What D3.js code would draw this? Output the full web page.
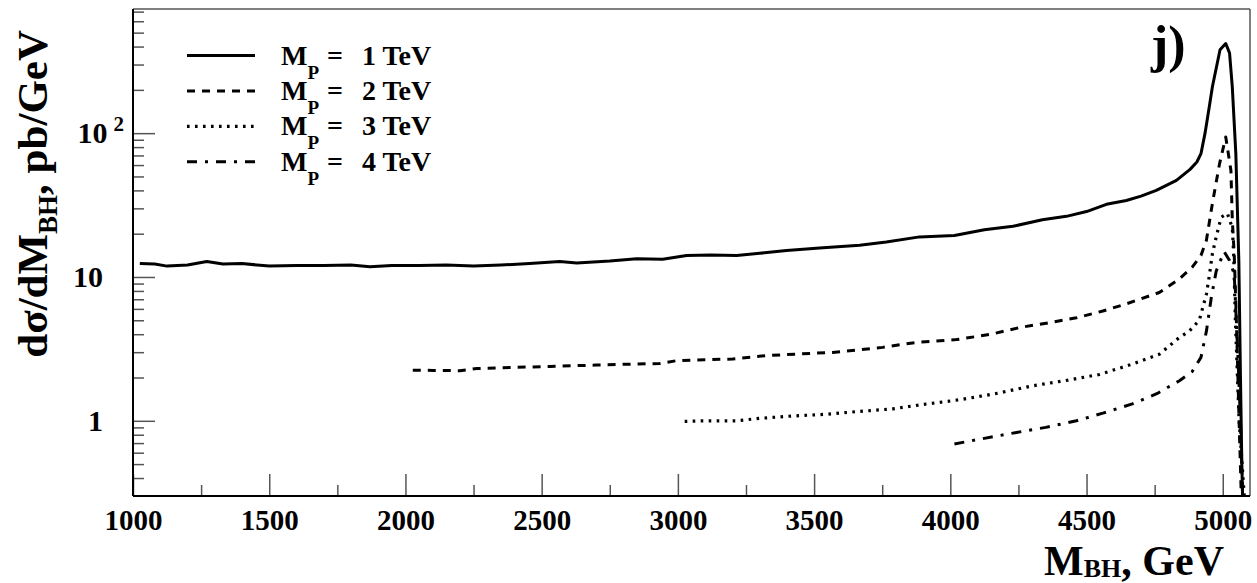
<!DOCTYPE html>
<html>
<head>
<meta charset="utf-8">
<script src="https://cdn.jsdelivr.net/npm/d3@7"></script>
<style>
  body { margin: 0; background: #fff; }
  text { font-family: "Liberation Serif", "Times New Roman", serif; font-weight: bold; fill: #000; }
</style>
</head>
<body>
<svg id="chart" width="1257" height="583"></svg>
<script>
// M_P = 1 TeV
const mp1X = [1025,1080,1125,1200,1271,1330,1400,1500,1600,1700,1800,1870,1950,2050,2150,2250,2350,2456,2566,2629,2750,2849,2944,3032,3120,3216,3300,3399,3520,3667,3765,3887,4015,4125,4230,4338,4426,4500,4573,4646,4700,4756,4830,4880,4905,4920,4935,4950,4962,4990,5011,5025,5035,5048,5059,5065,5070,5075]
const mp1Y = [12.4,12.3,11.9,12.1,12.8,12.3,12.4,11.9,12.0,12.0,12.1,11.8,12.0,12.0,12.1,11.9,12.1,12.4,12.8,12.5,12.9,13.4,13.3,14.1,14.2,14.1,14.6,15.3,15.9,16.6,17.5,19.0,19.4,21.3,22.5,25.0,26.4,28.5,32.0,34,36.5,40,47,56,63,72,100,150,210,380,420,360,210,72,13,2,0.5,0.2]
// M_P = 2 TeV
const mp2X = [2027,2100,2200,2262,2400,2530,2700,2834,2933,2996,3100,3201,3325,3450,3568,3751,3876,4023,4150,4254,4360,4463,4560,4646,4767,4841,4888,4920,4940,4962,4988,5011,5030,5035,5042,5050,5060,5068,5075]
const mp2Y = [2.25,2.24,2.23,2.31,2.35,2.39,2.44,2.48,2.5,2.62,2.66,2.69,2.84,2.92,2.99,3.24,3.51,3.67,4.0,4.45,4.8,5.2,5.8,6.5,7.8,9.7,11.7,14.1,18,32.5,61,94,55,25,14.5,5,1.0,0.3,0.2]
// M_P = 3 TeV
const mp3X = [3025,3100,3216,3300,3420,3546,3660,3788,3900,4034,4170,4301,4420,4547,4660,4767,4841,4877,4914,4940,4950,4962,4976,4994,5017,5035,5040,5046,5060,5079,5085]
const mp3Y = [0.99,1.0,1.0,1.04,1.08,1.11,1.16,1.21,1.3,1.40,1.55,1.75,1.9,2.1,2.45,2.9,3.8,4.2,5.0,7.6,10,14.5,19,26,27.7,22,14.5,5.2,1.0,0.3,0.2]
// M_P = 4 TeV
const mp4X = [4015,4100,4243,4350,4463,4560,4668,4760,4841,4888,4920,4940,4958,4976,5005,5025,5042,5055,5065,5073,5080]
const mp4Y = [0.69,0.74,0.83,0.9,1.0,1.13,1.31,1.55,1.9,2.2,2.76,4.2,7.2,11,15,13,10.5,3,1,0.3,0.2]

const legendLabels = ["1 TeV", "2 TeV", "3 TeV", "4 TeV"]
const xMajor = [1000,1500,2000,2500,3000,3500,4000,4500,5000]
const xMinor = [1250,1750,2250,2750,3250,3750,4250,4750]
const yMajor = [1, 10, 100]
const yMinor = [0.4,0.5,0.6,0.7,0.8,0.9,2,3,4,5,6,7,8,9,20,30,40,50,60,70,80,90,200,300,400,500,600,700]

const series = [
  { x: mp1X, y: mp1Y, dash: null, width: 3 },
  { x: mp2X, y: mp2Y, dash: "8,7", width: 3 },
  { x: mp3X, y: mp3Y, dash: "2.6,5.4", width: 3.2 },
  { x: mp4X, y: mp4Y, dash: "10,8,3,8", width: 3 }
]

const L = 133, R = 1250, T = 9, B = 496

const svg = d3.select("#chart")
svg.append("rect").attr("width", 1257).attr("height", 583).attr("fill", "#fff")

const x = d3.scaleLinear().domain([1000, 5100]).range([L, R])
const y = d3.scaleLog().domain([0.3, 730]).range([B, T])

svg.append("defs").append("clipPath").attr("id", "clip")
  .append("rect").attr("x", L).attr("y", T).attr("width", R - L).attr("height", B - T)

// ticks
const xAx = svg.append("g").attr("transform", `translate(0,${B})`)
  .call(d3.axisBottom(x).tickValues(xMajor).tickSize(-22).tickSizeOuter(0).tickPadding(13).tickFormat(d3.format("d")))
xAx.select(".domain").remove()
xAx.selectAll("line").attr("stroke", "#555").attr("stroke-width", 1.5)
xAx.selectAll("text").attr("font-size", 29).attr("font-family", null)

const xMin = svg.append("g").attr("transform", `translate(0,${B})`)
  .call(d3.axisBottom(x).tickValues(xMinor).tickSize(-11).tickSizeOuter(0).tickFormat(""))
xMin.select(".domain").remove()
xMin.selectAll("line").attr("stroke", "#555").attr("stroke-width", 1.5)

const yAx = svg.append("g").attr("transform", `translate(${L},0)`)
  .call(d3.axisLeft(y).tickValues(yMajor).tickSize(-22).tickSizeOuter(0).tickPadding(30).tickFormat(d => d === 100 ? "10" : String(d)))
yAx.select(".domain").remove()
yAx.selectAll("line").attr("stroke", "#555").attr("stroke-width", 1.5)
yAx.selectAll("text").attr("font-size", 30).attr("font-family", null)
yAx.selectAll(".tick").filter(d => d === 100).select("text")
  .attr("x", -9)
  .append("tspan").attr("dx", 6).attr("dy", -12).attr("font-size", 21).text("2")

const yMin = svg.append("g").attr("transform", `translate(${L},0)`)
  .call(d3.axisLeft(y).tickValues(yMinor).tickSize(-11).tickSizeOuter(0).tickFormat(""))
yMin.select(".domain").remove()
yMin.selectAll("line").attr("stroke", "#555").attr("stroke-width", 1.5)

// frame
svg.append("line").attr("x1", L).attr("x2", R).attr("y1", T).attr("y2", T).attr("stroke", "#555").attr("stroke-width", 1.5)
svg.append("line").attr("x1", R).attr("x2", R).attr("y1", T).attr("y2", B).attr("stroke", "#555").attr("stroke-width", 1.5)
svg.append("line").attr("x1", L).attr("x2", R).attr("y1", B).attr("y2", B).attr("stroke", "#000").attr("stroke-width", 2)
svg.append("line").attr("x1", L).attr("x2", L).attr("y1", T).attr("y2", B).attr("stroke", "#000").attr("stroke-width", 2)

// curves
const line = d3.line().x(d => x(d[0])).y(d => y(d[1]))
const plot = svg.append("g").attr("clip-path", "url(#clip)")
series.forEach(s => {
  plot.append("path")
    .datum(s.x.map((v, i) => [v, s.y[i]]))
    .attr("d", line)
    .attr("fill", "none")
    .attr("stroke", "#000")
    .attr("stroke-width", s.width)
    .attr("stroke-linejoin", "round")
    .attr("stroke-dasharray", s.dash)
})

// legend
const lg = svg.append("g")
series.forEach((s, i) => {
  const ly = 55.5 + i * 35.4
  lg.append("line").attr("x1", 187).attr("x2", 255).attr("y1", ly).attr("y2", ly)
    .attr("stroke", "#000").attr("stroke-width", s.width).attr("stroke-dasharray", s.dash)
  const t = lg.append("text").attr("x", 281).attr("y", ly + 9).attr("font-size", 28)
  t.append("tspan").text("M")
  t.append("tspan").attr("dy", 14).attr("font-size", 19).text("P")
  t.append("tspan").attr("x", 327).attr("dy", -14).text("=")
  t.append("tspan").attr("x", 362).text(legendLabels[i])
})

// panel label
svg.append("text").attr("x", 1151).attr("y", 62).attr("font-size", 52).text("j)")

// axis titles
const xt = svg.append("text").attr("x", 1224).attr("y", 575).attr("text-anchor", "end").attr("font-size", 42)
xt.append("tspan").text("M")
xt.append("tspan").attr("dy", 2).attr("font-size", 26).text("BH")
xt.append("tspan").attr("dy", -2).text(", GeV")

const yt = svg.append("text").attr("transform", "translate(47,30) rotate(-90)").attr("text-anchor", "end").attr("font-size", 43)
yt.append("tspan").text("dσ/dM")
yt.append("tspan").attr("dy", 10).attr("font-size", 27).text("BH")
yt.append("tspan").attr("dy", -10).text(", pb/GeV")
</script>
</body>
</html>
